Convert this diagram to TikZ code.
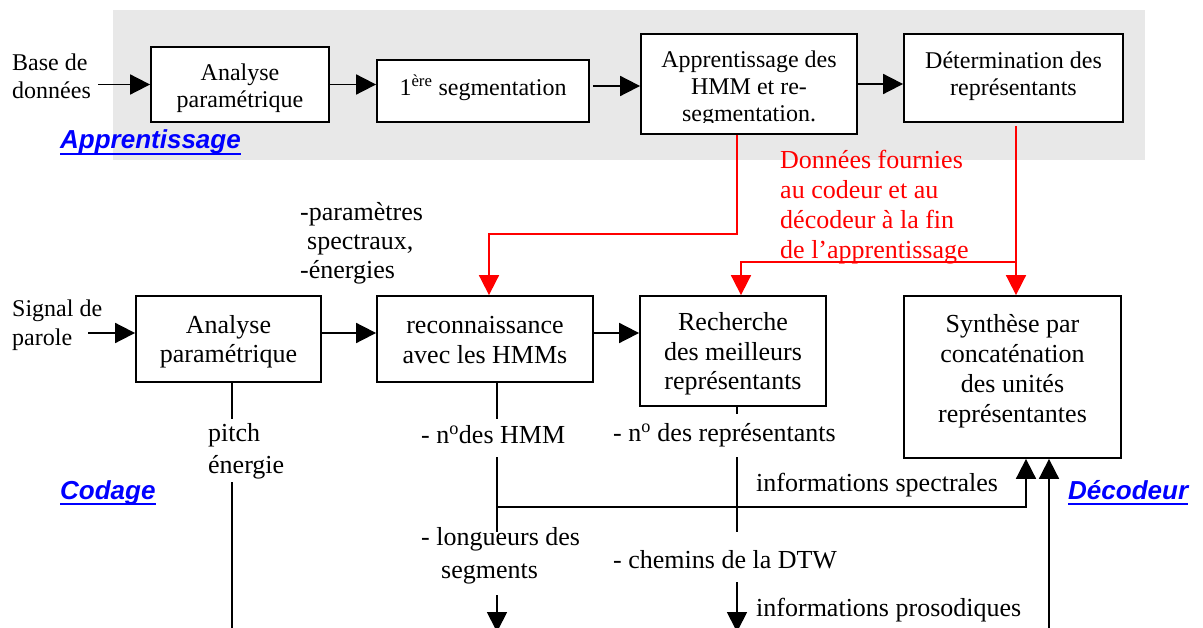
\documentclass[tikz,border=0pt]{standalone}
\usepackage{fontspec}
\setmainfont{Liberation Serif}
\newfontfamily\arialf{Liberation Sans}
\usetikzlibrary{arrows.meta,calc}
\definecolor{bggray}{HTML}{E8E8E8}
\definecolor{rred}{HTML}{FF0000}
\definecolor{lblue}{HTML}{0000FF}
\newcommand\secul[1]{\setbox0\hbox{#1}\rlap{\rule[-6pt]{\wd0}{2pt}}\box0}
\tikzset{
  box/.style={draw=black, line width=1.8pt, fill=white, inner sep=0pt},
  toptxt/.style={font=\fontsize{24}{27}\selectfont, align=center, inner sep=0pt},
  bottxt/.style={font=\fontsize{26}{29.5}\selectfont, align=center, inner sep=0pt},
  lbl/.style={font=\fontsize{26}{32.5}\selectfont, align=left, anchor=west, inner sep=0pt},
  conn/.style={line width=1.8pt, -{Triangle[length=20pt,width=20pt]}},
  plain/.style={line width=1.8pt},
  rconn/.style={draw=rred, line width=1.8pt, -{Triangle[length=20pt,width=20pt]}, color=rred},
  sect/.style={font=\arialf\bfseries\itshape\fontsize{26}{30}\selectfont, text=lblue, anchor=base west, inner sep=0pt},
}
\begin{document}
\begin{tikzpicture}[x=1pt,y=-1pt]
\clip (0,0) rectangle (1203,628);
\fill[white] (0,0) rectangle (1203,628);
\fill[bggray] (113,10) rectangle (1145,160);

% ---------- top row ----------
\node[box, minimum width=178pt, minimum height=75pt] (a1) at (240,84.5) {};
\node[toptxt] (a1t) at (240,88.5) {Analyse\\paramétrique};
\node[box, minimum width=212pt, minimum height=62pt] (a2) at (483,91) {};
\node[toptxt] (a2t) at (483,88) {1\textsuperscript{ère} segmentation};
\node[box, minimum width=216pt, minimum height=100pt] (a3) at (749,84) {};
\begin{scope}
\clip (641,34) rectangle (857,123);
\node[toptxt] (a3t) at (749,88.5) {Apprentissage des\\HMM et re-\\segmentation.};
\end{scope}
\node[box, minimum width=219pt, minimum height=88pt] (a4) at (1013.5,78) {};
\node[toptxt] (a4t) at (1013.5,76) {Détermination des\\représentants};

\node[toptxt, align=left, anchor=west, font=\fontsize{24}{28}\selectfont] (base) at (12,76) {Base de\\données};
\node[sect] (appr) at (60,149) {\secul{Apprentissage}};

\coordinate (bsin) at (98,84.5);
\draw[conn] (bsin) -- (a1.west);
\draw[conn] (a1.east) -- (a1.east -| a2.west);
\draw[conn] ([xshift=3pt,yshift=5pt]a2.east) -- ([yshift=5pt]a2.east -| a3.west);
\draw[conn] (a3.east) -- (a3.east -| a4.west);

% ---------- bottom row ----------
\node[box, minimum width=185pt, minimum height=86pt] (b1) at (228.5,339) {};
\node[bottxt] (b1t) at (228.5,341.5) {Analyse\\paramétrique};
\node[box, minimum width=216pt, minimum height=86pt] (b2) at (485,339) {};
\node[bottxt] (b2t) at (485,340) {reconnaissance\\avec les HMMs};
\node[box, minimum width=186pt, minimum height=110pt] (b3) at (733,351) {};
\node[bottxt] (b3t) at (733,354) {Recherche\\des meilleurs\\représentants};
\node[box, minimum width=217pt, minimum height=162pt] (b4) at (1012.5,377) {};
\node[bottxt, font=\fontsize{26}{30}\selectfont] (b4t) at (1012.5,371) {Synthèse par\\concaténation\\des unités\\représentantes};

\node[toptxt, align=left, anchor=west, font=\fontsize{24}{29}\selectfont] (sig) at (12,325) {Signal de\\parole};
\node[lbl, font=\fontsize{26}{29}\selectfont] (param) at (300,243.5) {-paramètres\\\hspace{7pt}spectraux,\\-énergies};

% red data links
\coordinate (r1) at (737,234);
\coordinate (r2) at (489,234);
\draw[rconn] (r1 |- a3.south) -- (r1) -- (r2) -- (r2 |- b2.north);
\coordinate (r3) at (1016,126);
\coordinate (r4) at (741,262);
\draw[rconn] (r3) -- (r3 |- b4.north);
\draw[rconn] (r3 |- r4) -- (r4) -- (r4 |- b3.north);
\node[lbl, text=rred, font=\fontsize{26}{30}\selectfont] (rtxt) at (780,207) {Données fournies\\au codeur et au\\décodeur à la fin\\de l’apprentissage};

% horizontal arrows bottom row
\coordinate (sin) at (88,333);
\draw[conn] (sin) -- (sin -| b1.west);
\draw[conn] (b1.east |- sin) -- (b2.west |- sin);
\draw[conn] (b2.east |- sin) -- (b3.west |- sin);

% vertical line under b1 (pitch / energie)
\coordinate (p1) at (232,419);
\coordinate (p2) at (232,482);
\coordinate (p3) at (232,640);
\draw[plain] (p1 |- b1.south) -- (p1);
\draw[plain] (p2) -- (p3);
\node[lbl, font=\fontsize{26}{32}\selectfont] (pitch) at (208,451.5) {pitch\\énergie};

% vertical line under b2
\coordinate (h1) at (497,419);
\coordinate (h2) at (497,457);
\coordinate (h3) at (497,532);
\coordinate (h4) at (497,595);
\coordinate (h5) at (497,632);
\coordinate (j1) at (497,507);
\coordinate (sp) at (1026,507);
\draw[plain] (h1 |- b2.south) -- (h1);
\draw[plain] (h2) -- (h3);
\draw[conn] (h4) -- (h5);
\draw[conn] (j1) -- (sp) -- (sp |- b4.south);
\node[lbl] (nhmm) at (421,434.5) {- n\textsuperscript{o}des HMM};
\node[lbl, font=\fontsize{26}{33}\selectfont] (long) at (421,556) {- longueurs des\\\hspace{20pt}segments};

% vertical line under b3
\coordinate (k1) at (737,414);
\coordinate (k2) at (737,457);
\coordinate (k3) at (737,532);
\coordinate (k4) at (737,582);
\coordinate (k5) at (737,632);
\draw[plain] (k1 |- b3.south) -- (k1);
\draw[plain] (k2) -- (k3);
\draw[conn] (k4) -- (k5);
\node[lbl] (nrep) at (613,435) {- n\textsuperscript{o} des représentants};
\node[lbl] (chem) at (613,559.5) {- chemins de la DTW};

% prosodic arrow into b4
\coordinate (pin) at (1049,640);
\draw[conn] (pin) -- (pin |- b4.south);

\node[lbl] (ispec) at (756,485) {informations spectrales};
\node[lbl] (ipro) at (756,610) {informations prosodiques};

\node[sect] (cod) at (60,499) {\secul{Codage}};
\node[sect] (dec) at (1068,499) {\secul{Décodeur}};
\end{tikzpicture}
\end{document}
